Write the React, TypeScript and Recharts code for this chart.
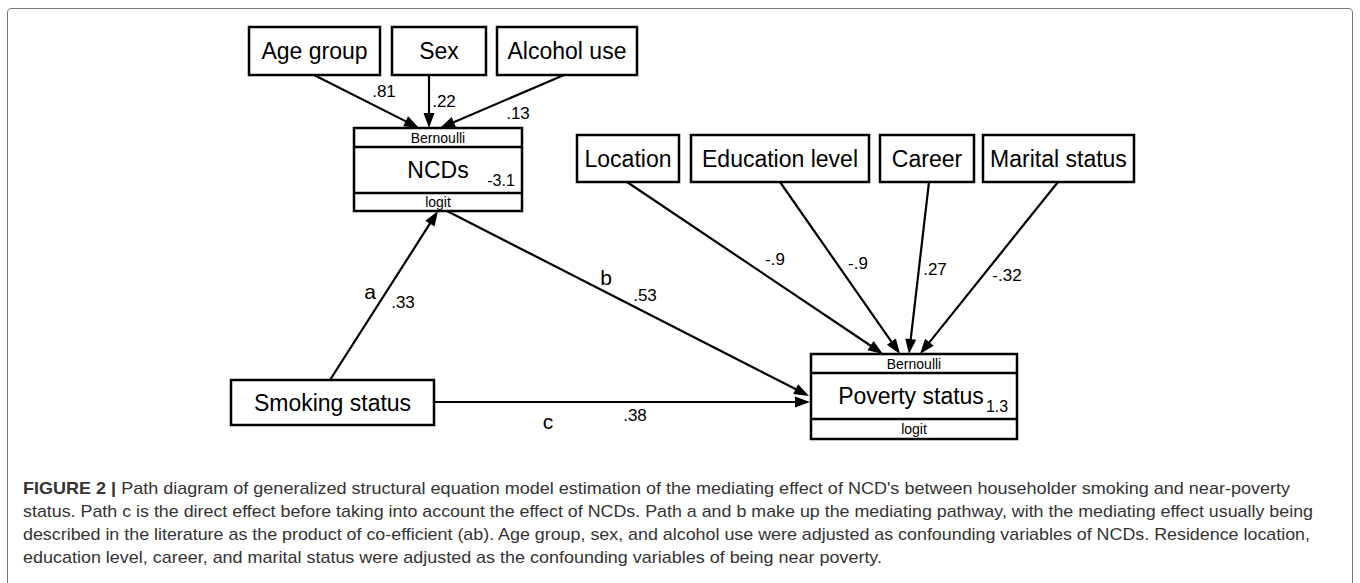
import { ReferenceArea, ReferenceLine, Scatter, ScatterChart, XAxis, YAxis } from "recharts";

// observed variables (plain rectangles), in diagram units
const observedNames = ["Age group", "Sex", "Alcohol use", "Location", "Education level", "Career", "Marital status", "Smoking status"];
const observedLeft = [249, 392, 497, 577, 691, 880, 983, 231];
const observedRight = [380, 486, 637, 679, 869, 974, 1134, 434];
const observedTop = [27, 27, 27, 135, 135, 135, 135, 380];
const observedBottom = [75, 75, 75, 182, 182, 182, 182, 425];

// generalized responses (Bernoulli family, logit link)
const responseNames = ["NCDs", "Poverty status"];
const responseLeft = [354, 811];
const responseRight = [522, 1017];
const responseTop = [128, 354];
const responseFamilyEnd = [147, 373];
const responseLinkStart = [193, 419];
const responseBottom = [211, 439];
const responseNameX = [438, 911];
const responseIntercepts = ["-3.1", "1.3"];
const interceptX = [501, 997];
const interceptY = [180, 406];

// paths
const pathStartX = [314, 429, 564, 330, 447, 434, 627, 780, 929, 1058];
const pathStartY = [75, 75, 75, 380, 211, 402, 182, 182, 182, 182];
const pathEndX = [419, 429, 440, 438, 809, 810, 883, 900, 909, 920];
const pathEndY = [128, 128, 128, 211, 396, 402, 354, 354, 354, 354];
const coefficients = [".81", ".22", ".13", ".33", ".53", ".38", "-.9", "-.9", ".27", "-.32"];
const coefX = [384, 444, 518, 403, 645, 635, 775, 858, 935, 1007];
const coefY = [91, 101, 113, 302, 295, 415, 259, 263, 269, 275];
const pathLetters = ["a", "b", "c"];
const letterX = [370, 606, 548];
const letterY = [291, 277, 421];

const captionLines = [
  "Path diagram of generalized structural equation model estimation of the mediating effect of NCD's between householder smoking and near-poverty",
  "status. Path c is the direct effect before taking into account the effect of NCDs. Path a and b make up the mediating pathway, with the mediating effect usually being",
  "described in the literature as the product of co-efficient (ab). Age group, sex, and alcohol use were adjusted as confounding variables of NCDs. Residence location,",
  "education level, career, and marital status were adjusted as the confounding variables of being near poverty.",
];
const captionWidths = [1267, 1290, 1287, 859];

const FONT = "'Liberation Sans', Arial, Helvetica, sans-serif";

const observedLabels = observedNames.map((label, i) => ({
  label,
  x: (observedLeft[i] + observedRight[i]) / 2,
  y: (observedTop[i] + observedBottom[i]) / 2,
}));
const responseLabels = responseNames.map((label, i) => ({
  label,
  x: responseNameX[i],
  y: (responseFamilyEnd[i] + responseLinkStart[i]) / 2,
}));
const familyLabels = responseNames.flatMap((_, i) => [
  { label: "Bernoulli", x: (responseLeft[i] + responseRight[i]) / 2, y: (responseTop[i] + responseFamilyEnd[i]) / 2 },
  { label: "logit", x: (responseLeft[i] + responseRight[i]) / 2, y: (responseLinkStart[i] + responseBottom[i]) / 2 },
]);
const interceptLabels = responseIntercepts.map((label, i) => ({ label, x: interceptX[i], y: interceptY[i] }));
const coefLabels = coefficients.map((label, i) => ({ label, x: coefX[i], y: coefY[i] }));
const letterLabels = pathLetters.map((label, i) => ({ label, x: letterX[i], y: letterY[i] }));

const textShape = (size: number) => (p: any) => (
  <text
    x={p.cx}
    y={p.cy}
    textAnchor="middle"
    dominantBaseline="central"
    fontFamily={FONT}
    fontSize={size}
    fill="#000"
  >
    {p.payload.label}
  </text>
);

const arrowShape = (p: any) => {
  const { x1, y1, x2, y2 } = p;
  const dx = x2 - x1;
  const dy = y2 - y1;
  const len = Math.sqrt(dx * dx + dy * dy) || 1;
  const ux = dx / len;
  const uy = dy / len;
  const head = 15;
  const half = 5.5;
  const bx = x2 - ux * head;
  const by = y2 - uy * head;
  const pts = `${x2},${y2} ${bx - uy * half},${by + ux * half} ${bx + uy * half},${by - ux * half}`;
  return (
    <g>
      <line x1={x1} y1={y1} x2={bx + ux * 2} y2={by + uy * 2} stroke="#000" strokeWidth={2.2} />
      <polygon points={pts} fill="#000" />
    </g>
  );
};

export default function App() {
  return (
    <div style={{ position: "absolute", left: 0, top: 0, width: 1360, height: 583, overflow: "hidden", background: "#fff" }}>
      <div
        style={{
          position: "absolute",
          left: 7,
          top: 8,
          width: 1344,
          height: 640,
          border: "1.5px solid #777",
          borderRadius: 4,
        }}
      />
      <div style={{ position: "absolute", left: 0, top: 0 }}>
        <ScatterChart width={1360} height={583} margin={{ top: 0, right: 0, bottom: 0, left: 0 }}>
          <XAxis type="number" dataKey="x" domain={[0, 1360]} hide allowDataOverflow />
          <YAxis type="number" dataKey="y" domain={[0, 583]} reversed hide allowDataOverflow />
          {pathStartX.map((_, i) => (
            <ReferenceLine
              key={`p${i}`}
              segment={[
                { x: pathStartX[i], y: pathStartY[i] },
                { x: pathEndX[i], y: pathEndY[i] },
              ]}
              stroke="#000"
              ifOverflow="visible"
              shape={arrowShape}
            />
          ))}
          {observedNames.map((n, i) => (
            <ReferenceArea
              key={n}
              x1={observedLeft[i]}
              x2={observedRight[i]}
              y1={observedTop[i]}
              y2={observedBottom[i]}
              fill="#fff"
              fillOpacity={1}
              stroke="#000"
              strokeWidth={2.5}
              ifOverflow="visible"
            />
          ))}
          {responseNames.map((n, i) => (
            <ReferenceArea
              key={n}
              x1={responseLeft[i]}
              x2={responseRight[i]}
              y1={responseTop[i]}
              y2={responseBottom[i]}
              fill="#fff"
              fillOpacity={1}
              stroke="#000"
              strokeWidth={2.5}
              ifOverflow="visible"
            />
          ))}
          {responseNames.flatMap((n, i) =>
            [responseFamilyEnd[i], responseLinkStart[i]].map((yy, k) => (
              <ReferenceLine
                key={`${n}${k}`}
                segment={[
                  { x: responseLeft[i], y: yy },
                  { x: responseRight[i], y: yy },
                ]}
                stroke="#000"
                strokeWidth={2.5}
                ifOverflow="visible"
              />
            ))
          )}
          <Scatter data={observedLabels} shape={textShape(23)} isAnimationActive={false} />
          <Scatter data={responseLabels} shape={textShape(23)} isAnimationActive={false} />
          <Scatter data={familyLabels} shape={textShape(14)} isAnimationActive={false} />
          <Scatter data={interceptLabels} shape={textShape(16)} isAnimationActive={false} />
          <Scatter data={coefLabels} shape={textShape(17)} isAnimationActive={false} />
          <Scatter data={letterLabels} shape={textShape(21)} isAnimationActive={false} />
        </ScatterChart>
      </div>
      <svg width={1360} height={583} style={{ position: "absolute", left: 0, top: 0 }}>
        {captionLines.map((line, i) => (
          <text
            key={i}
            x={23}
            y={494 + i * 23}
            fontFamily={FONT}
            fontSize={17}
            fill="#333"
            textLength={captionWidths[i]}
            lengthAdjust="spacingAndGlyphs"
          >
            {i === 0 ? <tspan fontWeight="bold">FIGURE 2 | </tspan> : null}
            {line}
          </text>
        ))}
      </svg>
    </div>
  );
}
